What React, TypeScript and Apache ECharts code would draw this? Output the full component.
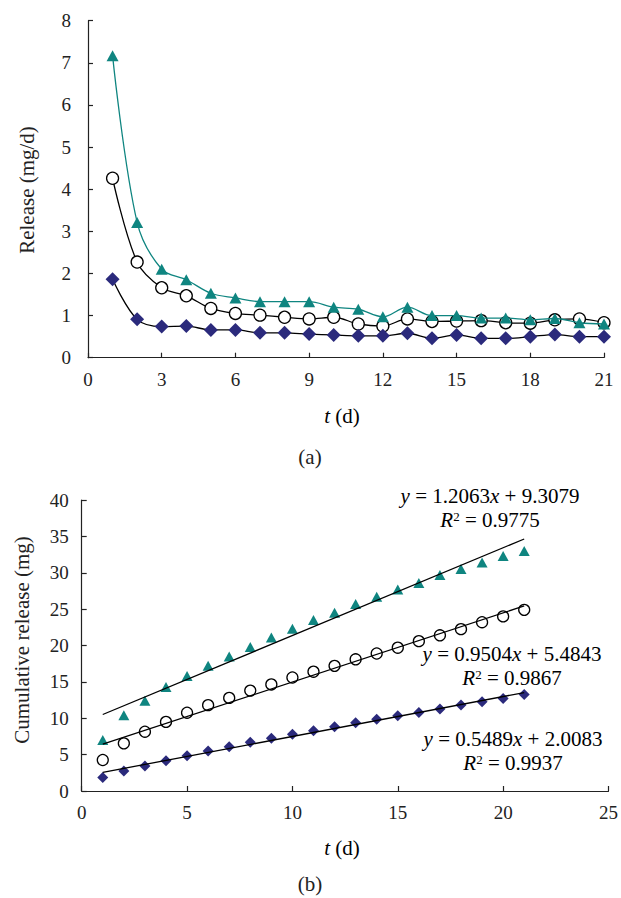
import React, { useEffect, useRef } from "react";
import * as echarts from "echarts";

// ---------- data ----------
const days: number[] = [1, 2, 3, 4, 5, 6, 7, 8, 9, 10, 11, 12, 13, 14, 15, 16, 17, 18, 19, 20, 21];

// (a) daily release, mg/d
const releaseTriangle: number[] = [7.17, 3.21, 2.1, 1.85, 1.53, 1.42, 1.33, 1.33, 1.33, 1.2, 1.15, 0.97, 1.2, 1.0, 1.0, 0.94, 0.94, 0.9, 0.93, 0.83, 0.8];
const releaseCircle: number[] = [4.26, 2.27, 1.66, 1.47, 1.17, 1.05, 1.01, 0.96, 0.92, 0.96, 0.8, 0.75, 0.92, 0.86, 0.87, 0.88, 0.83, 0.82, 0.9, 0.92, 0.83];
const releaseDiamond: number[] = [1.86, 0.91, 0.74, 0.75, 0.66, 0.66, 0.59, 0.59, 0.56, 0.54, 0.52, 0.52, 0.58, 0.46, 0.54, 0.46, 0.46, 0.5, 0.55, 0.5, 0.5];

// (b) cumulative release, mg
const cumTriangle: number[] = [7.0, 10.4, 12.4, 14.3, 15.8, 17.2, 18.5, 19.8, 21.1, 22.3, 23.5, 24.5, 25.7, 26.7, 27.7, 28.6, 29.7, 30.5, 31.4, 32.3, 33.0];
const cumCircle: number[] = [4.26, 6.55, 8.15, 9.5, 10.76, 11.8, 12.8, 13.8, 14.65, 15.6, 16.4, 17.2, 18.1, 18.9, 19.7, 20.6, 21.4, 22.25, 23.2, 24.0, 24.9];
const cumDiamond: number[] = [1.86, 2.75, 3.43, 4.16, 4.85, 5.5, 6.09, 6.69, 7.24, 7.79, 8.28, 8.83, 9.38, 9.85, 10.34, 10.8, 11.26, 11.81, 12.27, 12.73, 13.28];

// linear fits shown on (b): slope, intercept, R²
const fitSlope: number[] = [1.2063, 0.9504, 0.5489];
const fitIntercept: number[] = [9.3079, 5.4843, 2.0083];
const fitR2: string[] = ["0.9775", "0.9867", "0.9937"];
const fitRange: number[] = [1, 21];

const teal = "#0f8580";
const navy = "#2b2a7c";
const FONT = "Liberation Serif";

const pairs = (ys: number[]) => days.map((d, i) => [d, ys[i]]);
const fitLine = (k: number) => fitRange.map((x) => [x, fitSlope[k] * x + fitIntercept[k]]);

export default function App() {
  const ref = useRef<HTMLDivElement>(null);
  useEffect(() => {
    if (!ref.current) return;
    const chart = echarts.init(ref.current, undefined, { renderer: "svg" });
    const axisLine = { lineStyle: { color: "#222", width: 1.2 } };
    const axisTick = { inside: true, length: 5, lineStyle: { color: "#222", width: 1.2 } };
    const axisLabel = (margin: number) => ({ margin, color: "#222", fontFamily: FONT, fontSize: 19 });
    const rich = {
      i: { fontStyle: "italic", fontFamily: FONT, fontSize: 21, color: "#222" },
      n: { fontFamily: FONT, fontSize: 21, color: "#222" },
      sup: { fontFamily: FONT, fontSize: 13, color: "#222", verticalAlign: "top", padding: [0, 0, 8, 0] },
    };
    const eqText = (k: number, x: number, y: number) => [
      {
        type: "text",
        x,
        y,
        style: {
          text: `{i|y}{n| = ${fitSlope[k].toFixed(4)}}{i|x}{n| + ${fitIntercept[k].toFixed(4)}}`,
          rich,
          align: "center",
          verticalAlign: "middle",
        },
      },
      {
        type: "text",
        x: x,
        y: y + 24,
        style: {
          text: `{i|R}{sup|2}{n| = ${fitR2[k]}}`,
          rich,
          align: "center",
          verticalAlign: "middle",
        },
      },
    ];
    const plain = (text: string, x: number, y: number, rotation = 0) => ({
      type: "text",
      x,
      y,
      rotation,
      style: { text, fontFamily: FONT, fontSize: 21, fill: "#222", align: "center", verticalAlign: "middle" },
    });
    const rt = (text: string, x: number, y: number) => ({
      type: "text",
      x,
      y,
      style: { text, rich, align: "center", verticalAlign: "middle" },
    });

    chart.setOption({
      animation: false,
      grid: [
        { left: 88, top: 20.7, width: 516, height: 337, containLabel: false },
        { left: 81.7, top: 500, width: 528.3, height: 291, containLabel: false },
      ],
      xAxis: [
        { type: "value", gridIndex: 0, min: 0, max: 21, interval: 3, splitLine: { show: false }, axisLine, axisTick, axisLabel: axisLabel(12) },
        { type: "value", gridIndex: 1, min: 0, max: 25, interval: 5, splitLine: { show: false }, axisLine, axisTick, axisLabel: axisLabel(12) },
      ],
      yAxis: [
        { type: "value", gridIndex: 0, min: 0, max: 8, interval: 1, splitLine: { show: false }, axisLine: { show: true, ...axisLine }, axisTick: { show: true, ...axisTick }, axisLabel: axisLabel(17) },
        { type: "value", gridIndex: 1, min: 0, max: 40, interval: 5, splitLine: { show: false }, axisLine: { show: true, ...axisLine }, axisTick: { show: true, ...axisTick }, axisLabel: axisLabel(13) },
      ],
      series: [
        {
          type: "line", xAxisIndex: 0, yAxisIndex: 0, data: pairs(releaseCircle), smooth: 0.35,
          symbol: "circle", symbolSize: 12, lineStyle: { color: "#000", width: 1.3 },
          itemStyle: { color: "#fff", borderColor: "#000", borderWidth: 1.3 }, z: 2,
        },
        {
          type: "line", xAxisIndex: 0, yAxisIndex: 0, data: pairs(releaseTriangle), smooth: 0.35,
          symbol: "triangle", symbolSize: [12, 11], lineStyle: { color: teal, width: 1.3 },
          itemStyle: { color: teal }, z: 3,
        },
        {
          type: "line", xAxisIndex: 0, yAxisIndex: 0, data: pairs(releaseDiamond), smooth: 0.35,
          symbol: "diamond", symbolSize: 14, lineStyle: { color: "#000", width: 1.3 },
          itemStyle: { color: navy }, z: 4,
        },
        // (b)
        {
          type: "scatter", xAxisIndex: 1, yAxisIndex: 1, data: pairs(cumTriangle),
          symbol: "triangle", symbolSize: [11, 10], itemStyle: { color: teal, opacity: 1 }, z: 2,
        },
        {
          type: "scatter", xAxisIndex: 1, yAxisIndex: 1, data: pairs(cumCircle),
          symbol: "circle", symbolSize: 11, itemStyle: { color: "#fff", borderColor: "#000", borderWidth: 1.3, opacity: 1 }, z: 2,
        },
        {
          type: "scatter", xAxisIndex: 1, yAxisIndex: 1, data: pairs(cumDiamond),
          symbol: "diamond", symbolSize: 11, itemStyle: { color: navy, opacity: 1 }, z: 2,
        },
        ...[0, 1, 2].map((k) => ({
          type: "line", xAxisIndex: 1, yAxisIndex: 1, data: fitLine(k), symbol: "none",
          lineStyle: { color: "#000", width: 1.3 }, z: 3,
        })),
      ],
      graphic: [
        plain("Release (mg/d)", 27, 190, Math.PI / 2),
        rt("{i|t}{n| (d)}", 342, 416),
        plain("(a)", 310, 457),
        plain("Cumulative release (mg)", 22, 640, Math.PI / 2),
        rt("{i|t}{n| (d)}", 342, 848),
        plain("(b)", 310, 884),
        ...eqText(0, 490, 496),
        ...eqText(1, 512, 654),
        ...eqText(2, 513, 739),
      ],
    });
    return () => chart.dispose();
  }, []);
  return <div ref={ref} style={{ position: "absolute", left: 0, top: 0, width: 621, height: 898 }} />;
}
